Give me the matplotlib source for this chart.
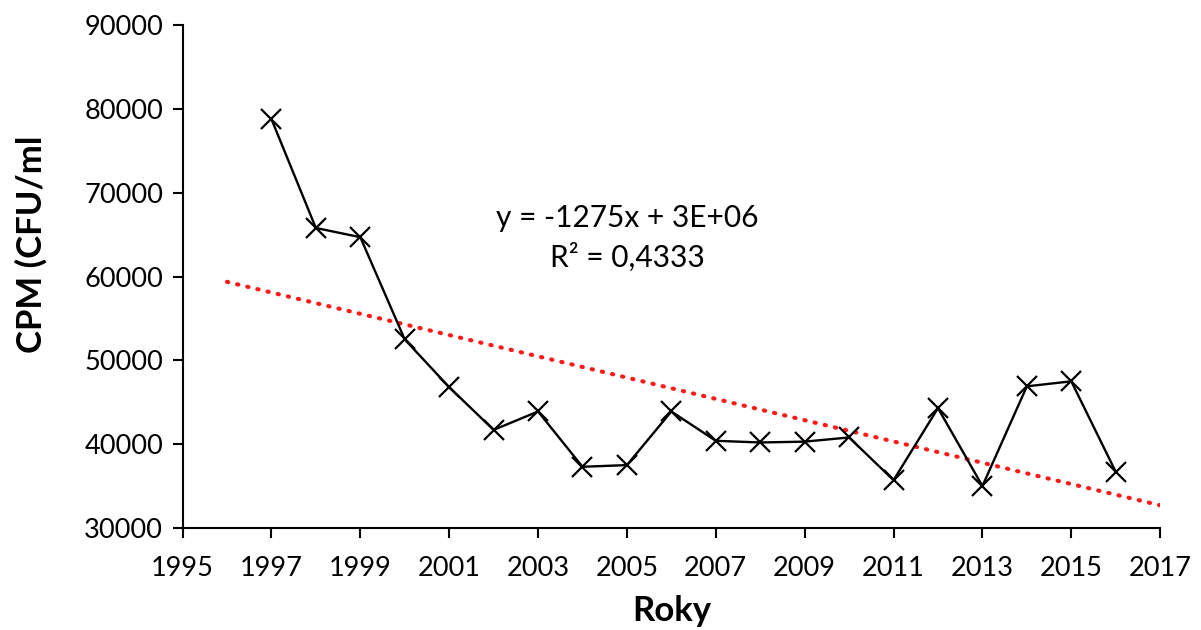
import numpy as np
import matplotlib
matplotlib.use("Agg")
import matplotlib.pyplot as plt

plt.rcParams['font.family'] = ['Lato', 'DejaVu Sans']

# CPM values per year
years = [1997, 1998, 1999, 2000, 2001, 2002, 2003, 2004, 2005, 2006,
         2007, 2008, 2009, 2010, 2011, 2012, 2013, 2014, 2015, 2016]
cpm = [78800, 65800, 64700, 52500, 46800, 41700, 43900, 37300, 37500, 43900,
       40400, 40200, 40300, 40800, 35700, 44300, 35000, 46900, 47500, 36700]

trend_x = [1996, 2017]
x_ticks = list(range(1995, 2018, 2))
y_ticks = list(range(30000, 90001, 10000))

fig = plt.figure(figsize=(12.01, 6.30), dpi=100)
ax = fig.add_axes([0.152, 0.162, 0.814, 0.798])

# linear trend fitted to the data
slope, intercept = np.polyfit(years, cpm, 1)
tx = np.array(trend_x)
ax.plot(tx, slope * tx + intercept, color='#ff1a1a', linewidth=3,
        linestyle=(0, (0.3, 2.2)), dash_capstyle='round')

ax.plot(years, cpm, color='black', linewidth=1.7, marker='x',
        markersize=15, markeredgewidth=1.6)

ax.text(2005.0, 64600, "y = -1275x + 3E+06\nR² = 0,4333", ha='center',
        va='center', fontsize=21.5, linespacing=1.45)

ax.set_xlim(1995, 2017)
ax.set_ylim(30000, 90000)
ax.set_xticks(x_ticks)
ax.set_yticks(y_ticks)
ax.tick_params(labelsize=19.5, length=7, width=1.5, direction='out')
ax.tick_params(axis='x', pad=13)
ax.tick_params(axis='y', pad=7)
ax.spines['top'].set_visible(False)
ax.spines['right'].set_visible(False)
ax.spines['left'].set_linewidth(1.5)
ax.spines['bottom'].set_linewidth(1.5)

ax.set_xlabel('Roky', fontsize=25, fontweight='bold', labelpad=10)
ax.set_ylabel('CPM (CFU/ml', fontsize=25, fontweight='bold')
ax.yaxis.set_label_coords(-0.138, 0.565)

fig.savefig('out.png', dpi=100)
